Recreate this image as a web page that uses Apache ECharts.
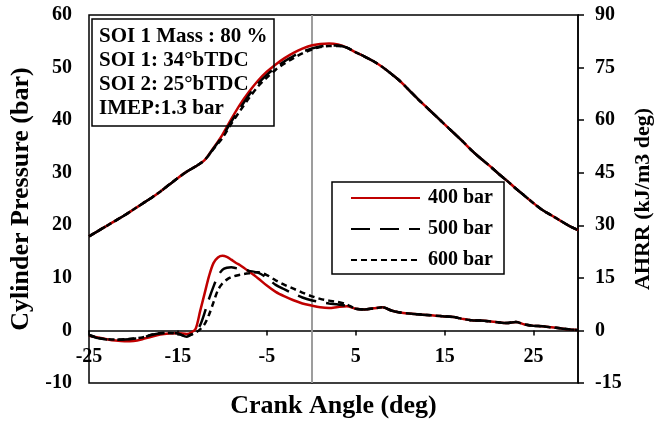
<!DOCTYPE html>
<html>
<head>
<meta charset="utf-8">
<script src="https://cdn.jsdelivr.net/npm/echarts@6/dist/echarts.min.js"></script>
<style>
  html, body { margin: 0; padding: 0; background: #fff; }
  #chart { width: 668px; height: 421px; }
</style>
</head>
<body>
<div id="chart"></div>
<script>
const FONT = "'Liberation Serif', 'Times New Roman', serif"
const RED = '#c00000'

const seriesNames = ['400 bar', '500 bar', '600 bar']

// cylinder pressure (bar), read every 1 deg
const pressureAngles = [-25,-24,-23,-22,-21,-20,-19,-18,-17,-16,-15,-14,-13,-12,-11,-10,-9,-8,-7,-6,-5,-4,-3,-2,-1,0,1,2,3,4,5,6,7,8,9,10,11,12,13,14,15,16,17,18,19,20,21,22,23,24,25,26,27,28,29,30]
const p400 = [17.9,18.9,19.9,20.9,21.9,23.0,24.1,25.2,26.4,27.7,29.0,30.2,31.2,32.4,34.7,37.2,40.2,43.0,45.4,47.5,49.2,50.6,51.8,52.8,53.6,54.2,54.5,54.6,54.4,53.8,52.9,52.1,51.2,50.1,48.8,47.4,45.7,44.0,42.4,40.8,39.2,37.6,36.0,34.3,32.8,31.4,29.9,28.5,27.0,25.6,24.2,22.9,21.9,20.9,19.9,19.1]
const p500 = [17.9,18.9,19.9,20.9,21.9,23.0,24.1,25.2,26.4,27.7,29.0,30.2,31.2,32.4,34.6,36.9,39.7,42.3,44.8,46.9,48.6,50.0,51.2,52.2,53.0,53.6,54.0,54.2,54.2,53.8,52.9,52.1,51.2,50.1,48.8,47.4,45.7,44.0,42.4,40.8,39.2,37.6,36.0,34.3,32.8,31.4,29.9,28.5,27.0,25.6,24.2,22.9,21.9,20.9,19.9,19.1]
const p600 = [17.9,18.9,19.9,20.9,21.9,23.0,24.1,25.2,26.4,27.7,29.0,30.2,31.2,32.4,34.5,36.6,39.3,41.8,44.2,46.4,48.1,49.6,50.8,51.8,52.7,53.4,53.9,54.1,54.1,53.8,52.9,52.1,51.2,50.1,48.8,47.4,45.7,44.0,42.4,40.8,39.2,37.6,36.0,34.3,32.8,31.4,29.9,28.5,27.0,25.6,24.2,22.9,21.9,20.9,19.9,19.1]

// apparent heat release rate (kJ/m3 deg), finer steps around the premixed peak
const hrrAngles = [-25,-24,-23,-22,-21,-20,-19,-18,-17,-16,-15,-14,-13.5,-13,-12.5,-12,-11.5,-11,-10.5,-10,-9.5,-9,-8.5,-8,-7,-6,-5,-4,-3,-2,-1,0,1,2,3,4,5,6,7,8,9,10,11,12,13,14,15,16,17,18,19,20,21,22,23,24,25,26,27,28,29,30]
const h400 = [-1.5,-2.0,-2.5,-2.9,-3.1,-3.0,-2.5,-1.8,-1.2,-0.9,-0.8,-1.0,-0.6,0.5,5.5,10.5,15.5,19.2,20.8,21.3,21.0,20.2,19.3,18.6,16.8,14.9,12.8,11.0,9.7,8.6,7.7,7.1,6.6,6.4,6.7,6.9,6.2,6.0,6.3,6.6,5.7,5.1,4.8,4.6,4.4,4.2,4.0,3.8,3.3,2.9,2.8,2.6,2.3,2.1,2.4,1.7,1.3,1.2,0.9,0.6,0.3,0.1]
const h500 = [-1.3,-2.2,-2.6,-2.7,-2.6,-2.4,-2.1,-1.3,-0.8,-0.7,-0.9,-1.8,-1.2,-0.4,1.5,5.0,9.0,12.5,15.5,17.3,17.9,18.0,17.8,17.6,17.0,16.5,15.0,13.0,11.7,10.5,9.4,8.6,8.1,7.7,7.4,7.0,6.2,6.0,6.3,6.6,5.7,5.1,4.8,4.6,4.4,4.2,4.0,3.8,3.3,2.9,2.8,2.6,2.3,2.1,2.4,1.7,1.3,1.2,0.9,0.6,0.3,0.1]
const h600 = [-1.3,-2.1,-2.5,-2.6,-2.5,-2.3,-2.0,-1.2,-0.8,-0.7,-1.0,-1.6,-1.2,-0.6,0.3,1.8,4.5,8.0,11.5,13.4,14.5,15.2,15.6,15.9,16.3,16.6,15.8,14.3,13.0,11.9,10.8,9.8,9.0,8.5,8.1,7.4,6.2,6.0,6.3,6.6,5.7,5.1,4.8,4.6,4.4,4.2,4.0,3.8,3.3,2.9,2.8,2.6,2.3,2.1,2.4,1.7,1.3,1.2,0.9,0.6,0.3,0.1]

const annotation = ['SOI 1 Mass : 80 %', 'SOI 1: 34°bTDC', 'SOI 2: 25°bTDC', 'IMEP:1.3 bar']

const styles = [
  { color: RED, type: 'solid' },
  { color: '#000', type: [19, 10] },
  { color: '#000', type: [6, 4] }
]

const zip = (xs, ys) => xs.map((x, i) => [x, ys[i]])

const chart = echarts.init(document.getElementById('chart'))

const pressures = [p400, p500, p600]
const hrrs = [h400, h500, h600]

const series = []
pressures.forEach((p, i) => {
  series.push({
    name: seriesNames[i],
    type: 'line',
    yAxisIndex: 0,
    smooth: 0.3,
    symbol: 'none',
    data: zip(pressureAngles, p),
    lineStyle: { color: styles[i].color, width: 2.5, type: styles[i].type },
    itemStyle: { color: styles[i].color },
    z: 3 + i
  })
})
hrrs.forEach((h, i) => {
  series.push({
    name: seriesNames[i],
    type: 'line',
    yAxisIndex: 1,
    smooth: 0.3,
    symbol: 'none',
    data: zip(hrrAngles, h),
    lineStyle: { color: styles[i].color, width: 2.5, type: styles[i].type },
    itemStyle: { color: styles[i].color },
    z: 3 + i
  })
})
// TDC marker
series[0].markLine = {
  silent: true,
  symbol: 'none',
  label: { show: false },
  lineStyle: { color: '#bdbdbd', width: 1.5, type: 'solid' },
  data: [{ xAxis: 0 }],
  z: 1
}

const tickLabel = { color: '#000', fontFamily: FONT, fontWeight: 'bold', fontSize: 20 }
const axisName = { color: '#000', fontFamily: FONT, fontWeight: 'bold', fontSize: 26 }

chart.setOption({
  animation: false,
  backgroundColor: '#fff',
  title: {
    text: annotation.join('\n'),
    left: 92,
    top: 19,
    padding: [6, 7, 5, 7],
    borderColor: '#000',
    borderWidth: 1.5,
    textStyle: { color: '#000', fontFamily: FONT, fontWeight: 'bold', fontSize: 21, lineHeight: 24 }
  },
  legend: {
    data: seriesNames,
    orient: 'vertical',
    left: 332,
    top: 182,
    padding: [6, 11, 4, 18],
    itemWidth: 69,
    itemHeight: 20,
    itemGap: 11,
    itemStyle: { opacity: 0 },
    borderColor: '#000',
    borderWidth: 1.5,
    backgroundColor: '#fff',
    textStyle: { color: '#000', fontFamily: FONT, fontWeight: 'bold', fontSize: 20, padding: [0, 0, 0, 3] }
  },
  grid: {
    left: 89, right: 90, top: 15, bottom: 38,
    containLabel: false,
    outerBoundsMode: 'none',
    show: true, borderColor: '#000', borderWidth: 1.5
  },
  xAxis: {
    type: 'value',
    min: -25, max: 30, interval: 10,
    name: 'Crank Angle (deg)',
    nameLocation: 'middle',
    nameGap: 10,
    nameTextStyle: axisName,
    axisLine: { onZero: true, onZeroAxisIndex: 0, lineStyle: { color: '#000', width: 1.5 } },
    axisTick: { show: true, length: 5, lineStyle: { color: '#000', width: 1.5 } },
    axisLabel: Object.assign({ margin: -36, showMaxLabel: false }, tickLabel),
    splitLine: { show: false }
  },
  yAxis: [
    {
      type: 'value',
      min: -10, max: 60, interval: 10,
      name: 'Cylinder Pressure (bar)',
      nameLocation: 'middle',
      nameGap: 52,
      nameTextStyle: axisName,
      axisLine: { show: true, lineStyle: { color: '#000', width: 1.5 } },
      axisTick: { show: false },
      axisLabel: Object.assign({ margin: 17 }, tickLabel),
      splitLine: { show: false }
    },
    {
      type: 'value',
      position: 'right',
      min: -15, max: 90, interval: 15,
      name: 'AHRR (kJ/m3 deg)',
      nameLocation: 'middle',
      nameGap: 52,
      nameTextStyle: Object.assign({}, axisName, { fontSize: 22 }),
      axisLine: { show: true, lineStyle: { color: '#000', width: 1.5 } },
      axisTick: { show: true, length: 6, lineStyle: { color: '#000', width: 1.5 } },
      axisLabel: Object.assign({ margin: 17 }, tickLabel),
      splitLine: { show: false }
    }
  ],
  series: series
})
</script>
</body>
</html>
